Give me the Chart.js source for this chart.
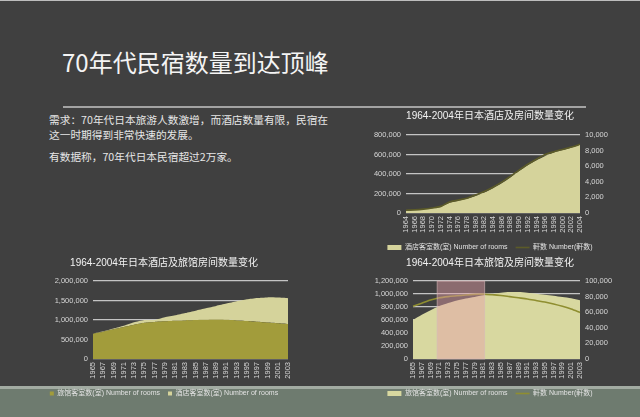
<!DOCTYPE html>
<html lang="zh-CN">
<head>
<meta charset="utf-8">
<title>70年代民宿数量到达顶峰</title>
<script src="https://cdn.jsdelivr.net/npm/chart.js@4.4.1/dist/chart.umd.min.js"></script>
<style>
  html, body { margin: 0; padding: 0; }
  body {
    width: 640px; height: 417px; position: relative; overflow: hidden;
    background: #404040; border-top: 1px solid #bdbdbd; box-sizing: border-box;
    font-family: "Noto Sans CJK SC", sans-serif; color: #ececec;
  }
  h1 { position: absolute; left: 62px; top: 46px; margin: 0; font-size: 24px; line-height: 30px; font-weight: 400; color: #f4f4f4; }
  .rule { position: absolute; left: 63px; top: 105px; width: 523px; height: 2px; background: #a3a3a3; }
  .note { position: absolute; left: 49px; top: 112px; width: 288px; font-size: 10.7px; line-height: 14.5px; color: #e6e6e6; }
  .note p { margin: 0 0 7.5px 0; }
  .band { position: absolute; left: 0; top: 385px; width: 640px; height: 32px; background: #6e7b6f; border-top: 3px solid #a2aba2; box-sizing: border-box; }
  canvas { position: absolute; }
  #hotels { left: 365px; top: 104px; }
  #rooms { left: 40px; top: 250px; }
  #ryokan { left: 365px; top: 250px; }
</style>
</head>
<body>
<h1>70年代民宿数量到达顶峰</h1>
<div class="rule"></div>
<div class="note">
  <p>需求：70年代日本旅游人数激增，而酒店数量有限，民宿在这一时期得到非常快速的发展。</p>
  <p>有数据称，70年代日本民宿超过2万家。</p>
</div>
<div class="band"></div>
<canvas id="hotels" width="250" height="156"></canvas>
<canvas id="rooms" width="262" height="156"></canvas>
<canvas id="ryokan" width="250" height="156"></canvas>
<script>
// chart 1: hotels, every two years
const YEARS_EVEN = [1964, 1966, 1968, 1970, 1972, 1974, 1976, 1978, 1980, 1982, 1984,
  1986, 1988, 1990, 1992, 1994, 1996, 1998, 2000, 2002, 2004];
const HOTEL_ROOMS = [25000, 30000, 38000, 48000, 62000, 105000, 125000, 145000, 175000, 210000, 255000,
  305000, 365000, 430000, 490000, 540000, 585000, 620000, 645000, 670000, 700000];
const HOTEL_COUNT = [350, 400, 500, 650, 850, 1400, 1650, 1900, 2300, 2750, 3300,
  3950, 4700, 5500, 6250, 6900, 7500, 7850, 8150, 8450, 8800];

// charts 2 and 3: odd years
const YEARS_ODD = [1965, 1967, 1969, 1971, 1973, 1975, 1977, 1979, 1981, 1983,
  1985, 1987, 1989, 1991, 1993, 1995, 1997, 1999, 2001, 2003];
const STACK_RYOKAN_ROOMS = [650000, 700000, 760000, 820000, 880000, 930000, 950000, 965000, 980000, 990000,
  1000000, 1005000, 1010000, 1005000, 990000, 975000, 955000, 935000, 915000, 895000];
const STACK_HOTEL_ROOMS = [0, 10000, 20000, 30000, 60000, 70000, 50000, 105000, 140000, 190000,
  240000, 295000, 350000, 415000, 490000, 555000, 610000, 645000, 660000, 665000];
const RYOKAN_ROOMS = [600000, 680000, 750000, 815000, 860000, 900000, 930000, 955000, 980000, 1000000,
  1020000, 1030000, 1030000, 1020000, 1005000, 990000, 975000, 955000, 935000, 905000];
const RYOKAN_COUNT = [67500, 71500, 75500, 78500, 80000, 81000, 82000, 82800, 83200, 82500,
  81500, 80000, 78500, 77000, 75000, 73000, 70500, 67500, 64000, 59500];
const HIGHLIGHT_YEARS = [1970.5, 1981.3];

Chart.defaults.font.family = "'Liberation Sans Narrow', 'Liberation Sans', 'Noto Sans CJK SC', sans-serif";
Chart.defaults.color = '#d6d6d6';
Chart.defaults.animation = false;

const GRID = '#c4c4c4';

function xAxis() {
  return {
    grid: { display: false, drawTicks: false },
    border: { display: false },
    ticks: { autoSkip: false, minRotation: 90, maxRotation: 90, padding: 3, font: { size: 7.5 } },
    afterFit: s => { s.height = 23; }
  };
}

function yAxis(max, step, width, side) {
  return {
    position: side,
    min: 0, max: max,
    grid: { display: side === 'left', color: GRID, lineWidth: 1.3, drawTicks: false },
    border: { display: false },
    ticks: { stepSize: step, padding: 5, font: { size: 7.5 } },
    afterFit: s => { s.width = width; }
  };
}

function titleOpts(text, top) {
  return {
    display: true, text: text, color: '#f2f2f2',
    font: { size: 10, weight: 'normal' },
    padding: { top: top, bottom: 30 - top - 12 }
  };
}

function legendOpts(w, h, reverse) {
  return {
    position: 'bottom',
    reverse: reverse,
    labels: { usePointStyle: true, pointStyleWidth: w, boxHeight: h, padding: 8, color: '#e2e2e2', font: { size: 7 } }
  };
}

// 1964-2004 hotels and rooms
new Chart(document.getElementById('hotels'), {
  type: 'line',
  data: {
    labels: YEARS_EVEN,
    datasets: [{
      label: '軒数 Number(軒数)',
      data: HOTEL_COUNT,
      yAxisID: 'y1',
      borderColor: '#5c5b28',
      borderWidth: 1.6,
      pointRadius: 0,
      pointStyle: 'line',
      tension: 0.25,
      fill: false
    }, {
      label: '酒店客室数(室) Number of rooms',
      data: HOTEL_ROOMS,
      yAxisID: 'y',
      backgroundColor: '#d5d39b',
      borderWidth: 0,
      pointRadius: 0,
      pointStyle: 'rect',
      tension: 0.25,
      fill: 'origin'
    }]
  },
  options: {
    responsive: false,
    layout: { padding: 0 },
    plugins: {
      title: titleOpts('1964-2004年日本酒店及房间数量变化', 5),
      legend: legendOpts(14, 5, true),
      tooltip: { enabled: false }
    },
    scales: {
      x: xAxis(),
      y: yAxis(800000, 200000, 41, 'left'),
      y1: yAxis(10000, 2000, 35, 'right')
    }
  }
});

// 1964-2004 hotel + ryokan rooms, stacked
new Chart(document.getElementById('rooms'), {
  type: 'line',
  data: {
    labels: YEARS_ODD,
    datasets: [{
      label: '旅馆客室数(室) Number of rooms',
      data: STACK_RYOKAN_ROOMS,
      backgroundColor: '#a29c3b',
      borderWidth: 0,
      pointRadius: 0,
      pointStyle: 'rect',
      tension: 0.2,
      fill: 'origin'
    }, {
      label: '酒店客室数(室) Number of rooms',
      data: STACK_HOTEL_ROOMS,
      backgroundColor: '#d5d39b',
      borderWidth: 0,
      pointRadius: 0,
      pointStyle: 'rect',
      tension: 0.2,
      fill: '-1'
    }]
  },
  options: {
    responsive: false,
    layout: { padding: { right: 14 } },
    plugins: {
      title: titleOpts('1964-2004年日本酒店及旅馆房间数量变化', 6),
      legend: legendOpts(4, 4, false),
      tooltip: { enabled: false }
    },
    scales: {
      x: xAxis(),
      y: Object.assign(yAxis(2000000, 500000, 53, 'left'), { stacked: true })
    }
  }
});

// shaded box over the 1970s
const highlightBox = {
  id: 'highlightBox',
  afterDatasetsDraw(chart) {
    const xs = chart.scales.x;
    const area = chart.chartArea;
    const ctx = chart.ctx;
    const x0 = xs.getPixelForValue((HIGHLIGHT_YEARS[0] - YEARS_ODD[0]) / 2);
    const x1 = xs.getPixelForValue((HIGHLIGHT_YEARS[1] - YEARS_ODD[0]) / 2);
    ctx.save();
    ctx.fillStyle = 'rgba(231, 160, 169, 0.45)';
    ctx.fillRect(x0, area.top, x1 - x0, area.bottom - area.top);
    ctx.strokeStyle = 'rgba(215, 185, 185, 0.6)';
    ctx.lineWidth = 1;
    ctx.strokeRect(x0, area.top, x1 - x0, area.bottom - area.top);
    ctx.restore();
  }
};

// 1964-2004 ryokan and rooms
new Chart(document.getElementById('ryokan'), {
  type: 'line',
  data: {
    labels: YEARS_ODD,
    datasets: [{
      label: '軒数 Number(軒数)',
      data: RYOKAN_COUNT,
      yAxisID: 'y1',
      borderColor: '#8f8e30',
      borderWidth: 1.6,
      pointRadius: 0,
      pointStyle: 'line',
      tension: 0.25,
      fill: false
    }, {
      label: '旅馆客室数(室) Number of rooms',
      data: RYOKAN_ROOMS,
      yAxisID: 'y',
      backgroundColor: '#d8d8a0',
      borderWidth: 0,
      pointRadius: 0,
      pointStyle: 'rect',
      tension: 0.25,
      fill: 'origin'
    }]
  },
  options: {
    responsive: false,
    plugins: {
      title: titleOpts('1964-2004年日本旅馆及房间数量变化', 6),
      legend: legendOpts(14, 5, true),
      tooltip: { enabled: false }
    },
    scales: {
      x: xAxis(),
      y: yAxis(1200000, 200000, 48, 'left'),
      y1: yAxis(100000, 20000, 35, 'right')
    }
  },
  plugins: [highlightBox]
});
</script>
</body>
</html>
